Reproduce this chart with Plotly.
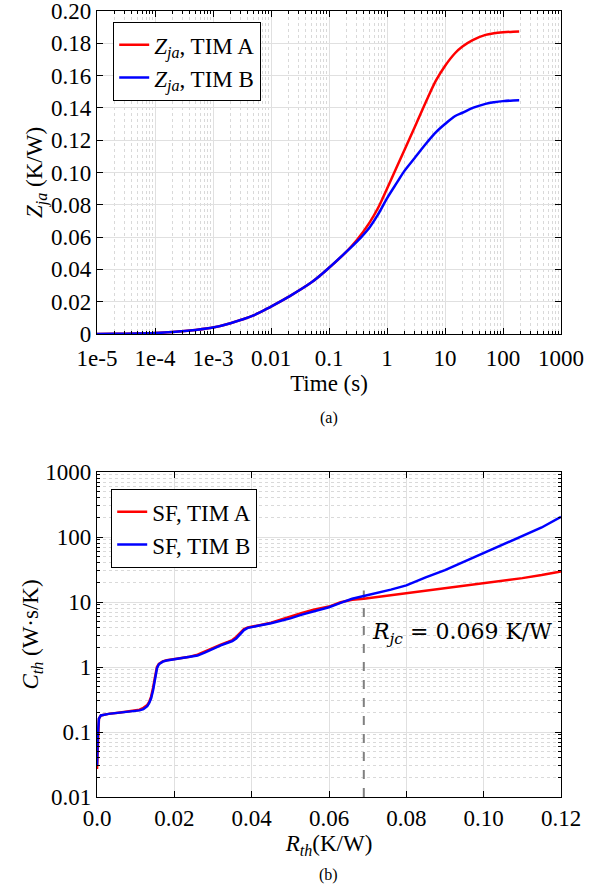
import plotly.graph_objects as go

# ---------------- data: (a) transient thermal impedance ----------------
time_s = [1e-5, 2e-5, 5e-5, 1e-4, 2e-4, 5e-4, 1e-3, 2e-3, 5e-3, 0.01, 0.02, 0.05,
          0.1, 0.2, 0.3, 0.5, 0.7, 1, 1.5, 2, 3, 5, 7, 10, 15, 20, 30, 50, 70,
          100, 150, 190]
zja_tim_a = [0, 0.0001, 0.0003, 0.0006, 0.0012, 0.0025, 0.004, 0.0067, 0.0115,
             0.017, 0.023, 0.032, 0.041, 0.051, 0.058, 0.069, 0.078, 0.090,
             0.104, 0.114, 0.128, 0.146, 0.157, 0.166, 0.174, 0.178, 0.182,
             0.1852, 0.1862, 0.1868, 0.1872, 0.1873]
zja_tim_b = [0, 0.0001, 0.0003, 0.0006, 0.0012, 0.0025, 0.004, 0.0067, 0.0115,
             0.017, 0.023, 0.032, 0.041, 0.051, 0.057, 0.066, 0.074, 0.084,
             0.094, 0.101, 0.109, 0.119, 0.125, 0.130, 0.135, 0.137, 0.140,
             0.1425, 0.1435, 0.1442, 0.1446, 0.1447]

# ---------------- data: (b) structure function ----------------
rth = [0, 0.0002, 0.0005, 0.001, 0.003, 0.006, 0.009, 0.011, 0.012, 0.013,
       0.0135, 0.014, 0.0145, 0.015, 0.0155, 0.016, 0.017, 0.018, 0.02, 0.022,
       0.024, 0.026, 0.028, 0.030, 0.032, 0.034, 0.035, 0.036, 0.037, 0.038,
       0.039, 0.040, 0.042, 0.045, 0.048, 0.050, 0.053, 0.056, 0.060, 0.063,
       0.066, 0.069, 0.072, 0.076, 0.080, 0.085, 0.090, 0.095, 0.100, 0.105,
       0.110, 0.115, 0.120]
cth_tim_a = [0.027, 0.08, 0.16, 0.18, 0.19, 0.20, 0.21, 0.22, 0.235, 0.26,
             0.29, 0.35, 0.48, 0.75, 1.0, 1.12, 1.22, 1.27, 1.33, 1.38,
             1.44, 1.55, 1.75, 2.0, 2.2, 2.45, 2.6, 2.9, 3.4, 3.85,
             4.05, 4.2, 4.4, 4.8, 5.5, 6.0, 6.8, 7.6, 8.5, 9.9,
             10.8, 11.2, 11.8, 12.8, 13.7, 15.0, 16.3, 17.8, 19.3, 21.0,
             23.3, 26.0, 29.5]
cth_tim_b = [0.03, 0.09, 0.16, 0.18, 0.19, 0.20, 0.21, 0.215, 0.225, 0.25,
             0.28, 0.33, 0.44, 0.68, 0.95, 1.10, 1.21, 1.26, 1.32, 1.37,
             1.42, 1.5, 1.68, 1.92, 2.15, 2.38, 2.5, 2.75, 3.2, 3.7,
             4.0, 4.15, 4.35, 4.7, 5.2, 5.6, 6.4, 7.2, 8.3, 9.7,
             11.2, 12.4, 13.6, 15.5, 18.0, 24, 31, 42, 57, 76,
             102, 140, 205]
rjc_value = 0.069
rjc_line_c = [0.01, 15]

top_xticks = [1e-5, 1e-4, 1e-3, 0.01, 0.1, 1, 10, 100, 1000]
top_xtext = ["1e-5", "1e-4", "1e-3", "0.01", "0.1", "1", "10", "100", "1000"]
top_yticks = [0, 0.02, 0.04, 0.06, 0.08, 0.10, 0.12, 0.14, 0.16, 0.18, 0.20]
top_ytext = ["0", "0.02", "0.04", "0.06", "0.08", "0.10", "0.12", "0.14",
             "0.16", "0.18", "0.20"]
bot_xticks = [0, 0.02, 0.04, 0.06, 0.08, 0.10, 0.12]
bot_xtext = ["0.0", "0.02", "0.04", "0.06", "0.08", "0.10", "0.12"]
bot_yticks = [0.01, 0.1, 1, 10, 100, 1000]
bot_ytext = ["0.01", "0.1", "1", "10", "100", "1000"]


def log_minor(decades):
    return [m * d for d in decades[:-1] for m in range(2, 10)]


FONT = "Liberation Serif"
FS = 23
W, H = 604, 890
RED, BLUE = "#ff0000", "#0000ff"
MAJ = "#e0e0e0"
MIN = "#d9d9d9"

fig = go.Figure()
fig.add_trace(go.Scatter(x=time_s, y=zja_tim_a, mode="lines",
                         line=dict(color=RED, width=2.5, shape="spline"),
                         name="<i>Z</i><sub><i>ja</i></sub>, TIM A",
                         xaxis="x", yaxis="y", legend="legend"))
fig.add_trace(go.Scatter(x=time_s, y=zja_tim_b, mode="lines",
                         line=dict(color=BLUE, width=2.5, shape="spline"),
                         name="<i>Z</i><sub><i>ja</i></sub>, TIM B",
                         xaxis="x", yaxis="y", legend="legend"))
fig.add_trace(go.Scatter(x=[rjc_value, rjc_value], y=rjc_line_c, mode="lines",
                         line=dict(color="#808080", width=2, dash="dash"),
                         showlegend=False, xaxis="x2", yaxis="y2"))
fig.add_trace(go.Scatter(x=rth, y=cth_tim_a, mode="lines",
                         line=dict(color=RED, width=2.5),
                         name="SF, TIM A", xaxis="x2", yaxis="y2",
                         legend="legend2"))
fig.add_trace(go.Scatter(x=rth, y=cth_tim_b, mode="lines",
                         line=dict(color=BLUE, width=2.5),
                         name="SF, TIM B", xaxis="x2", yaxis="y2",
                         legend="legend2"))

xdom = [97 / W, 561 / W]
top_dom = [(H - 334) / H, (H - 11) / H]
bot_dom = [(H - 797) / H, (H - 472) / H]

common = dict(showline=True, linecolor="black", linewidth=1.2, mirror="allticks",
              ticks="inside", ticklen=6, tickcolor="black", automargin=False,
              ticklabeloverflow="allow",
              tickfont=dict(family=FONT, size=FS, color="black"),
              gridcolor=MAJ, gridwidth=1, zeroline=False)
minor_common = dict(ticks="inside", ticklen=3, tickcolor="black",
                    showgrid=True, gridcolor=MIN, griddash="dot", gridwidth=1)

fig.update_layout(
    width=W, height=H, autosize=False,
    margin=dict(l=0, r=0, t=0, b=0, pad=0, autoexpand=False),
    paper_bgcolor="white", plot_bgcolor="white",
    font=dict(family=FONT, size=FS, color="black"),
    showlegend=True,
    xaxis=dict(domain=xdom, anchor="y", type="log", range=[-5, 3],
               tickmode="array", tickvals=top_xticks, ticktext=top_xtext,
               minor=dict(tickmode="array", tickvals=log_minor(top_xticks),
                          **minor_common),
               ticklabelstandoff=3,
               title=dict(text="Time (s)", font=dict(family=FONT, size=FS),
                          standoff=0),
               **common),
    yaxis=dict(domain=top_dom, anchor="x", range=[0, 0.2],
               tickmode="array", tickvals=top_yticks, ticktext=top_ytext,
               title=dict(text="<i>Z</i><sub><i>ja</i></sub> (K/W)",
                          font=dict(family=FONT, size=FS), standoff=0),
               **common),
    xaxis2=dict(domain=xdom, anchor="y2", range=[0, 0.12],
                tickmode="array", tickvals=bot_xticks, ticktext=bot_xtext,
                title=dict(text="<i>R</i><sub><i>th</i></sub>(K/W)",
                           font=dict(family=FONT, size=FS), standoff=0),
                **common),
    yaxis2=dict(domain=bot_dom, anchor="x2", type="log", range=[-2, 3],
                tickmode="array", tickvals=bot_yticks, ticktext=bot_ytext,
                minor=dict(tickmode="array", tickvals=log_minor(bot_yticks),
                           **minor_common),
                title=dict(text="<i>C</i><sub><i>th</i></sub> (W·s/K)",
                           font=dict(family=FONT, size=FS), standoff=0),
                **common),
    legend=dict(x=113 / W, y=1 - 22 / H, xanchor="left", yanchor="top",
                bgcolor="white", bordercolor="black", borderwidth=1.2,
                font=dict(family=FONT, size=FS), tracegroupgap=0),
    legend2=dict(x=111 / W, y=1 - 489 / H, xanchor="left", yanchor="top",
                 bgcolor="white", bordercolor="black", borderwidth=1.2,
                 font=dict(family=FONT, size=FS), tracegroupgap=0),
    annotations=[
        dict(text="(a)", xref="paper", yref="paper", x=329 / W, y=1 - 418 / H,
             xanchor="center", yanchor="middle",
             showarrow=False, font=dict(family=FONT, size=16)),
        dict(text="(b)", xref="paper", yref="paper", x=329 / W, y=1 - 875 / H,
             xanchor="center", yanchor="middle",
             showarrow=False, font=dict(family=FONT, size=16)),
        dict(text="<i>R</i><sub><i>jc</i></sub> = 0.069 K/W", xref="x2",
             yref="y2", x=0.0705, y=0.51, xanchor="left", showarrow=False,
             font=dict(family="DejaVu Serif", size=22)),
    ],
)

fig.write_html("out.html")
